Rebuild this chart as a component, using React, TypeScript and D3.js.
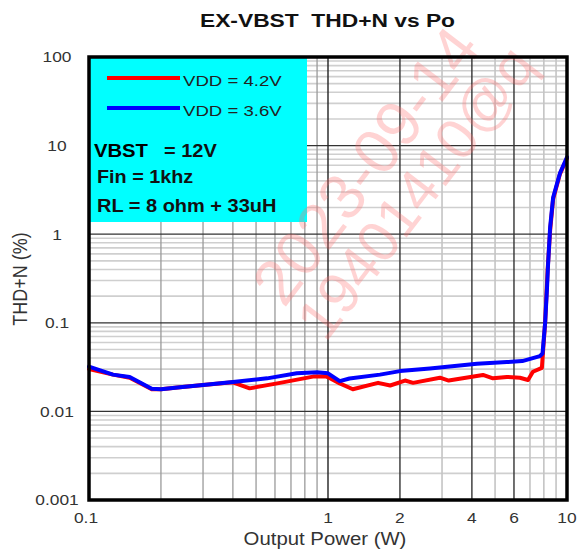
import React from 'react';
import * as d3 from 'd3';

// THD+N vs output power
const powerRed = [0.1, 0.126, 0.148, 0.183, 0.2, 0.24, 0.3, 0.4, 0.47, 0.63, 0.865, 0.97, 1.01, 1.12, 1.27, 1.62, 1.82, 2.1, 2.27, 2.94, 3.2, 4.45, 4.9, 5.6, 6.35, 6.87, 7.2, 7.85, 7.95, 8.1, 8.3, 8.5, 8.75, 9.35, 10];
const thdRed = [0.03, 0.026, 0.024, 0.0178, 0.0178, 0.0187, 0.0199, 0.0213, 0.0182, 0.021, 0.0247, 0.025, 0.024, 0.0207, 0.0178, 0.021, 0.0196, 0.0223, 0.021, 0.024, 0.0223, 0.0258, 0.0236, 0.0245, 0.024, 0.0226, 0.028, 0.031, 0.05, 0.1, 0.4, 1.1, 2.5, 4.8, 7.2];

const powerBlue = [0.1, 0.126, 0.148, 0.183, 0.2, 0.24, 0.3, 0.4, 0.556, 0.74, 0.9, 1.0, 1.12, 1.23, 1.65, 2.0, 2.67, 4.2, 5.6, 6.5, 7.7, 7.9, 8.1, 8.25, 8.33, 8.5, 8.75, 9.35, 10];
const thdBlue = [0.032, 0.026, 0.0245, 0.018, 0.0178, 0.0187, 0.0199, 0.0215, 0.0236, 0.0269, 0.0276, 0.0269, 0.022, 0.0235, 0.026, 0.0285, 0.0305, 0.0345, 0.036, 0.037, 0.042, 0.045, 0.1, 0.25, 0.45, 1.2, 2.6, 4.9, 7.4];

const xTicks = [0.1, 1, 2, 4, 6, 10];
const xTickLabels = ['0.1', '1', '2', '4', '6', '10'];
const yTicks = [0.001, 0.01, 0.1, 1, 10, 100];
const yTickLabels = ['0.001', '0.01', '0.1', '1', '10', '100'];

const seriesNames = ['VDD = 4.2V', 'VDD = 3.6V'];
const seriesColors = ['#ff0000', '#0000ff'];

const W = 577, H = 552;
const M = { top: 57, right: 10, bottom: 52, left: 89 };
const FONT = '"Liberation Sans", Arial, sans-serif';

// the source image is a bit stretched sideways, so text gets a horizontal scale
const Txt = ({ x, y, sx = 1.12, size, weight = 'normal', anchor = 'start', fill = '#222', rot = 0, dy = 0, children }: any) => (
  <text
    transform={`translate(${x},${y}) scale(${sx},1)${rot ? ` rotate(${rot})` : ''}`}
    textAnchor={anchor}
    fontFamily={FONT}
    fontSize={size}
    fontWeight={weight}
    fill={fill}
    dy={dy}
  >
    {children}
  </text>
);

export default function App() {
  const x = d3.scaleLog().domain([0.1, 10]).range([M.left, W - M.right]);
  const y = d3.scaleLog().domain([0.001, 100]).range([H - M.bottom, M.top]);

  const line = d3.line<[number, number]>().x(d => x(d[0])).y(d => y(d[1]));
  const redPts = powerRed.map((p, i) => [p, thdRed[i]] as [number, number]);
  const bluePts = powerBlue.map((p, i) => [p, thdBlue[i]] as [number, number]);

  const k = d3.range(2, 10);
  const yMinor = [0.001, 0.01, 0.1, 1, 10].flatMap(d => k.map(j => j * d));
  const xMinor1 = k.map(j => j * 0.1);
  const xMinor2 = k.map(j => j * 1);

  const x0 = M.left, x1 = W - M.right, y0 = M.top, y1 = H - M.bottom;

  return (
    <svg width={W} height={H} style={{ position: 'absolute', left: 0, top: 0, background: '#fff' }}>
      {/* grid */}
      <g>
        {yMinor.map(v => (
          <line key={'ym' + v} x1={x0} x2={x1} y1={y(v)} y2={y(v)} stroke="#cfcfcf" strokeWidth={1.6} />
        ))}
        {xMinor1.map(v => (
          <line key={'xa' + v} x1={x(v)} x2={x(v)} y1={y0} y2={y1} stroke="#9a9a9a" strokeWidth={1.3} />
        ))}
        {xMinor2.map(v => (
          <line key={'xb' + v} x1={x(v)} x2={x(v)} y1={y0} y2={y1}
            stroke={[2, 4, 6].includes(v) ? '#333' : '#c4c4c4'}
            strokeWidth={[2, 4, 6].includes(v) ? 1.4 : 1.6} />
        ))}
        {yTicks.map(v => (
          <line key={'yM' + v} x1={x0} x2={x1} y1={y(v)} y2={y(v)} stroke="#333" strokeWidth={1.3} />
        ))}
        <line x1={x(1)} x2={x(1)} y1={y0} y2={y1} stroke="#222" strokeWidth={1.4} />
      </g>

      {/* legend / conditions box */}
      <rect x={x0} y={y0} width={307 - x0} height={222 - y0} fill="#00ffff" />

      {/* watermark */}
      <g fill="#ff7070" opacity={0.3} fontFamily={FONT}>
        <text transform="translate(365,165) rotate(-52.6)" textAnchor="middle" dy="0.36em" fontSize={64}>2023-09-14</text>
        <text transform="translate(415,192) rotate(-52.6)" textAnchor="middle" dy="0.36em" fontSize={58}>19401410@q</text>
      </g>

      {seriesNames.map((name, i) => (
        <g key={name}>
          <line x1={107} x2={180} y1={78 + i * 30} y2={78 + i * 30} stroke={seriesColors[i]} strokeWidth={4} />
          <Txt x={183} y={86 + i * 30} size={15} sx={1.24}>{name}</Txt>
        </g>
      ))}
      <Txt x={94} y={157} size={19} weight="bold" sx={1.065} fill="#000">VBST</Txt>
      <Txt x={164} y={157} size={18} weight="bold" sx={1.11} fill="#111">= 12V</Txt>
      <Txt x={97} y={183} size={18} weight="bold" sx={1.1} fill="#111">Fin = 1khz</Txt>
      <Txt x={97} y={212} size={18} weight="bold" sx={1.11} fill="#111">RL = 8 ohm + 33uH</Txt>

      {/* curves */}
      <path d={line(redPts) || ''} fill="none" stroke={seriesColors[0]} strokeWidth={4} strokeLinejoin="round" strokeLinecap="round" />
      <path d={line(bluePts) || ''} fill="none" stroke={seriesColors[1]} strokeWidth={4} strokeLinejoin="round" strokeLinecap="round" />

      {/* frame */}
      <rect x={x0} y={y0} width={x1 - x0} height={y1 - y0} fill="none" stroke="#000" strokeWidth={3.5} />

      {/* ticks */}
      {yTicks.map((v, i) => (
        <Txt key={'yl' + v} x={57} y={y(v)} dy="0.35em" size={15.5} anchor="middle" fill="#333">{yTickLabels[i]}</Txt>
      ))}
      {xTicks.map((v, i) => (
        <Txt key={'xl' + v} x={v === 0.1 ? x(v) - 3 : x(v)} y={523} size={15.5} anchor="middle" fill="#333">{xTickLabels[i]}</Txt>
      ))}

      {/* titles */}
      <Txt x={327.5} y={27} size={19} weight="bold" sx={1.2} anchor="middle" fill="#111">{'EX-VBST\u00a0\u00a0THD+N vs Po'}</Txt>
      <Txt x={325} y={545} size={18.5} sx={1.1} anchor="middle" fill="#333">Output Power (W)</Txt>
      <Txt x={27} y={279} size={18} sx={1.1} rot={-90} anchor="middle" fill="#333">THD+N (%)</Txt>
    </svg>
  );
}
